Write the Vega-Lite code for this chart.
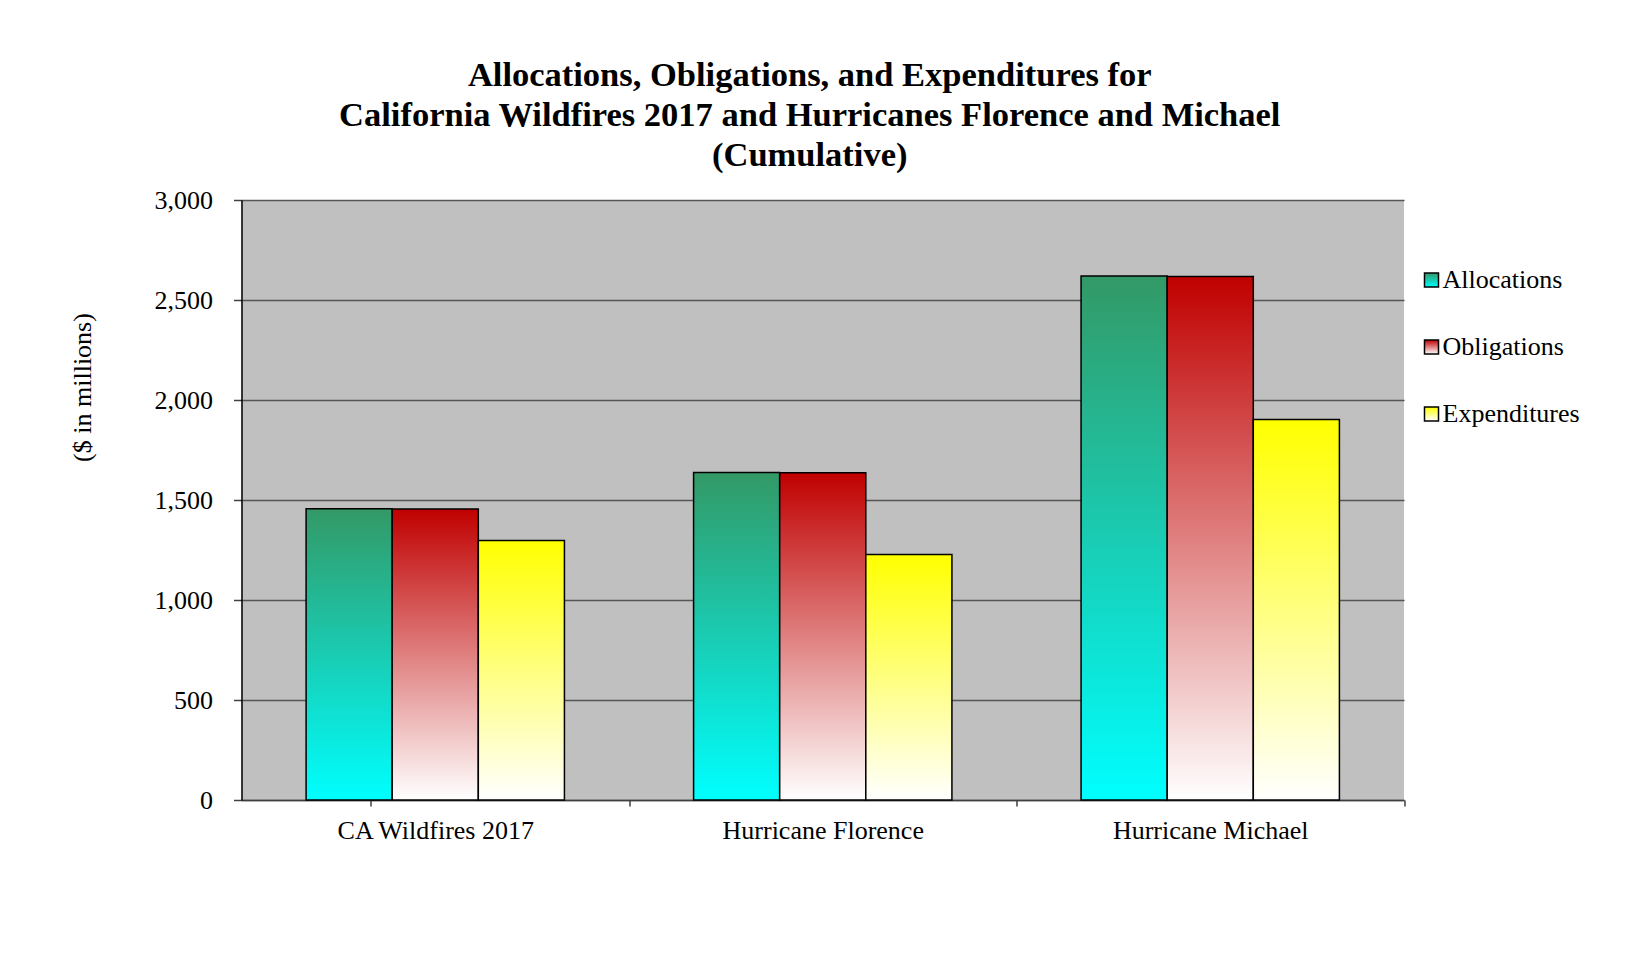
{
  "$schema": "https://vega.github.io/schema/vega-lite/v6.json",
  "autosize": {"type": "none"},
  "width": 1162.5,
  "height": 600,
  "padding": {"left": 241.5, "top": 200, "right": 221, "bottom": 171},
  "background": "#ffffff",
  "title": {
    "text": ["Allocations, Obligations, and Expenditures for", "California Wildfires 2017 and Hurricanes Florence and Michael", "(Cumulative)"],
    "font": "Liberation Serif",
    "fontSize": 34.5,
    "fontWeight": "bold",
    "lineHeight": 40,
    "color": "#000000",
    "anchor": "middle",
    "frame": "group",
    "dx": -13,
    "offset": 14
  },
  "data": {
    "values": [
      {"event": "CA Wildfires 2017", "measure": "Allocations", "value": 1456},
      {"event": "CA Wildfires 2017", "measure": "Obligations", "value": 1455},
      {"event": "CA Wildfires 2017", "measure": "Expenditures", "value": 1297},
      {"event": "Hurricane Florence", "measure": "Allocations", "value": 1637},
      {"event": "Hurricane Florence", "measure": "Obligations", "value": 1636},
      {"event": "Hurricane Florence", "measure": "Expenditures", "value": 1227},
      {"event": "Hurricane Michael", "measure": "Allocations", "value": 2620},
      {"event": "Hurricane Michael", "measure": "Obligations", "value": 2617},
      {"event": "Hurricane Michael", "measure": "Expenditures", "value": 1903}
    ]
  },
  "mark": {"type": "bar", "stroke": "#000000", "strokeWidth": 1.5},
  "encoding": {
    "x": {
      "field": "event",
      "type": "nominal",
      "sort": ["CA Wildfires 2017", "Hurricane Florence", "Hurricane Michael"],
      "scale": {"paddingInner": 0.3333, "paddingOuter": 0.1667},
      "axis": {
        "title": null,
        "labelAngle": 0,
        "labelFont": "Liberation Serif",
        "labelFontSize": 26,
        "labelColor": "#000000",
        "labelLimit": 0,
        "labelPadding": 11,
        "bandPosition": 1,
        "tickOffset": 64.6,
        "labelOffset": -64.6,
        "tickExtra": true,
        "tickSize": 6,
        "tickColor": "#404040",
        "tickWidth": 1.5,
        "domainColor": "#404040",
        "domainWidth": 1.5,
        "grid": false
      }
    },
    "xOffset": {
      "field": "measure",
      "type": "nominal",
      "sort": ["Allocations", "Obligations", "Expenditures"],
      "scale": {"paddingInner": 0, "paddingOuter": 0}
    },
    "y": {
      "field": "value",
      "type": "quantitative",
      "scale": {"domain": [0, 3000], "nice": false},
      "axis": {
        "title": "($ in millions)",
        "titleFont": "Liberation Serif",
        "titleFontSize": 26,
        "titleFontWeight": "normal",
        "titleColor": "#000000",
        "titleAngle": -90,
        "titleBaseline": "bottom",
        "titleAlign": "center",
        "titleX": -146,
        "titleY": 187,
        "values": [0, 500, 1000, 1500, 2000, 2500, 3000],
        "format": ",.0f",
        "labelFont": "Liberation Serif",
        "labelFontSize": 26,
        "labelColor": "#000000",
        "labelPadding": 21,
        "tickSize": 8,
        "tickColor": "#404040",
        "tickWidth": 1.5,
        "domainColor": "#000000",
        "domainWidth": 1.5,
        "grid": true,
        "gridColor": "#555555",
        "gridWidth": 1.5
      }
    },
    "color": {
      "field": "measure",
      "type": "nominal",
      "sort": ["Allocations", "Obligations", "Expenditures"],
      "scale": {
        "domain": ["Allocations", "Obligations", "Expenditures"],
        "range": [
          {"expr": "{gradient: 'linear', x1: 0, y1: 0, x2: 0, y2: 1, stops: [{offset: 0, color: '#339966'}, {offset: 1, color: '#00ffff'}]}"},
          {"expr": "{gradient: 'linear', x1: 0, y1: 0, x2: 0, y2: 1, stops: [{offset: 0, color: '#c00000'}, {offset: 1, color: '#ffffff'}]}"},
          {"expr": "{gradient: 'linear', x1: 0, y1: 0, x2: 0, y2: 1, stops: [{offset: 0, color: '#ffff00'}, {offset: 1, color: '#ffffff'}]}"}
        ]
      },
      "legend": {
        "title": null,
        "orient": "none",
        "legendX": 1177,
        "legendY": 67,
        "padding": 0,
        "symbolType": "square",
        "symbolSize": 196,
        "symbolStrokeColor": "#000000",
        "symbolStrokeWidth": 1.5,
        "labelFont": "Liberation Serif",
        "labelFontSize": 26,
        "labelColor": "#000000",
        "labelOffset": -2,
        "rowPadding": 41
      }
    }
  },
  "config": {
    "view": {"fill": "#c0c0c0", "stroke": null},
    "font": "Liberation Serif"
  }
}
